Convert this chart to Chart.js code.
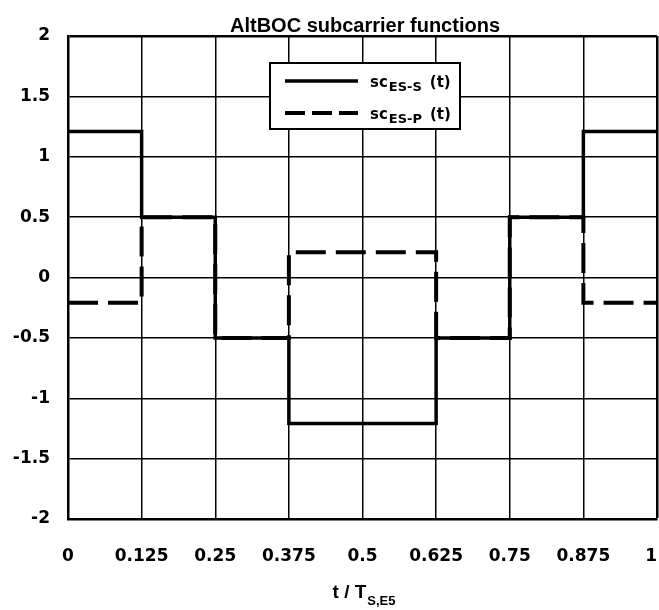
<!DOCTYPE html>
<html>
<head>
<meta charset="utf-8">
<script src="https://cdn.jsdelivr.net/npm/chart.js@4/dist/chart.umd.min.js"></script>
<style>
  html, body { margin: 0; padding: 0; background: #fff; }
  #c { display: block; }
</style>
</head>
<body>
<canvas id="c" width="659" height="610"></canvas>
<script>
// ---- data ----
const tBreaks = [0, 0.125, 0.25, 0.375, 0.5, 0.625, 0.75, 0.875, 1];
const scS = [1.21, 0.5, -0.5, -1.21, -1.21, -0.5, 0.5, 1.21, 1.21];
const scP = [-0.21, 0.5, -0.5, 0.21, 0.21, -0.5, 0.5, -0.21, -0.21];
const xTickValues = [0, 0.125, 0.25, 0.375, 0.5, 0.625, 0.75, 0.875, 1];
const xTickLabels = ['0', '0.125', '0.25', '0.375', '0.5', '0.625', '0.75', '0.875', '1'];
const yTickValues = [-2, -1.5, -1, -0.5, 0, 0.5, 1, 1.5, 2];
const yTickLabels = ['-2', '-1.5', '-1', '-0.5', '0', '0.5', '1', '1.5', '2'];
const titleText = 'AltBOC subcarrier functions';
const legendMain = ['sc', 'sc'];
const legendSub = ['ES-S', 'ES-P'];
const legendTail = ['(t)', '(t)'];
const xTitleMain = 't / T';
const xTitleSub = 'S,E5';

// each value holds from its break to the next break
const toPts = (vals) => tBreaks.map((t, i) => ({ x: t, y: vals[i] }));

const tickFont = { family: 'DejaVu Sans', size: 17, weight: 'bold' };

const textPlugin = {
  id: 'texts',
  afterDraw(chart) {
    const ctx = chart.ctx;
    ctx.save();
    ctx.fillStyle = '#000';
    ctx.textBaseline = 'alphabetic';
    // title
    ctx.font = 'bold 20px "Liberation Sans"';
    ctx.textAlign = 'center';
    ctx.fillText(titleText, 365, 32);

    // x-axis title with subscript
    ctx.textAlign = 'left';
    ctx.font = 'bold 19px "Liberation Sans"';
    const wMain = ctx.measureText(xTitleMain).width;
    ctx.font = 'bold 13px "Liberation Sans"';
    const wSub = ctx.measureText(xTitleSub).width;
    const x0 = 364 - (wMain + 1 + wSub) / 2;
    ctx.font = 'bold 19px "Liberation Sans"';
    ctx.fillText(xTitleMain, x0, 598);
    ctx.font = 'bold 13px "Liberation Sans"';
    ctx.fillText(xTitleSub, x0 + wMain + 1, 605);

    // legend box
    const bx = 270, by = 63, bw = 190, bh = 66;
    ctx.fillStyle = '#fff';
    ctx.fillRect(bx, by, bw, bh);
    ctx.strokeStyle = '#000';
    ctx.lineWidth = 2;
    ctx.strokeRect(bx, by, bw, bh);

    const rows = [81, 113];
    const dashes = [[], [20, 7]];
    const widths = [3.5, 4];
    for (let i = 0; i < 2; i++) {
      const y = rows[i];
      ctx.beginPath();
      ctx.setLineDash(dashes[i]);
      ctx.lineWidth = widths[i];
      ctx.lineCap = 'butt';
      ctx.moveTo(285, y);
      ctx.lineTo(358, y);
      ctx.stroke();
      ctx.setLineDash([]);
      ctx.fillStyle = '#000';
      let x = 370;
      ctx.font = 'bold 15px "DejaVu Sans"';
      ctx.fillText(legendMain[i], x, y + 6);
      x += ctx.measureText(legendMain[i]).width + 1;
      ctx.font = 'bold 13px "DejaVu Sans"';
      ctx.fillText(legendSub[i], x, y + 10);
      x += ctx.measureText(legendSub[i]).width + 8;
      ctx.font = 'bold 15px "DejaVu Sans"';
      ctx.fillText(legendTail[i], x, y + 6);
    }
    ctx.restore();
  }
};

new Chart(document.getElementById('c'), {
  type: 'line',
  data: {
    datasets: [
      {
        label: 'sc_ES-S (t)',
        data: toPts(scS),
        stepped: 'before',
        borderColor: '#000',
        borderWidth: 3.5,
        pointRadius: 0,
        fill: false
      },
      {
        label: 'sc_ES-P (t)',
        data: toPts(scP),
        stepped: 'before',
        borderColor: '#000',
        borderWidth: 4,
        borderDash: [30, 10],
        pointRadius: 0,
        fill: false
      }
    ]
  },
  options: {
    responsive: false,
    animation: false,
    devicePixelRatio: 1,
    layout: { padding: { top: 36, right: 2, left: 0, bottom: 0 } },
    plugins: {
      legend: { display: false },
      title: { display: false },
      tooltip: { enabled: false }
    },
    scales: {
      x: {
        type: 'linear',
        min: 0,
        max: 1,
        afterFit: (s) => { s.height = 91; s.paddingLeft = 0; s.paddingRight = 0; },
        afterBuildTicks: (s) => { s.ticks = xTickValues.map(v => ({ value: v })); },
        grid: {
          color: '#000',
          lineWidth: (c) => (c.tick && c.tick.value === 1 ? 2.5 : 1.5),
          drawTicks: false
        },
        border: { display: true, color: '#000', width: 2.5 },
        ticks: {
          autoSkip: false,
          maxRotation: 0,
          color: '#000',
          font: tickFont,
          padding: 27,
          // last label padded with spaces so it stays inside the canvas edge
          callback: (v, i) => (i === xTickLabels.length - 1 ? xTickLabels[i] + '  ' : xTickLabels[i])
        }
      },
      y: {
        type: 'linear',
        min: -2,
        max: 2,
        afterFit: (s) => { s.width = 68; s.paddingTop = 0; s.paddingBottom = 0; },
        afterBuildTicks: (s) => { s.ticks = yTickValues.map(v => ({ value: v })); },
        grid: {
          color: '#000',
          lineWidth: (c) => (c.tick && c.tick.value === 2 ? 2.5 : 1.5),
          drawTicks: false
        },
        border: { display: true, color: '#000', width: 2.5 },
        ticks: {
          color: '#000',
          font: tickFont,
          padding: 18,
          callback: (v, i) => yTickLabels[i]
        }
      }
    }
  },
  plugins: [textPlugin]
});
</script>
</body>
</html>
